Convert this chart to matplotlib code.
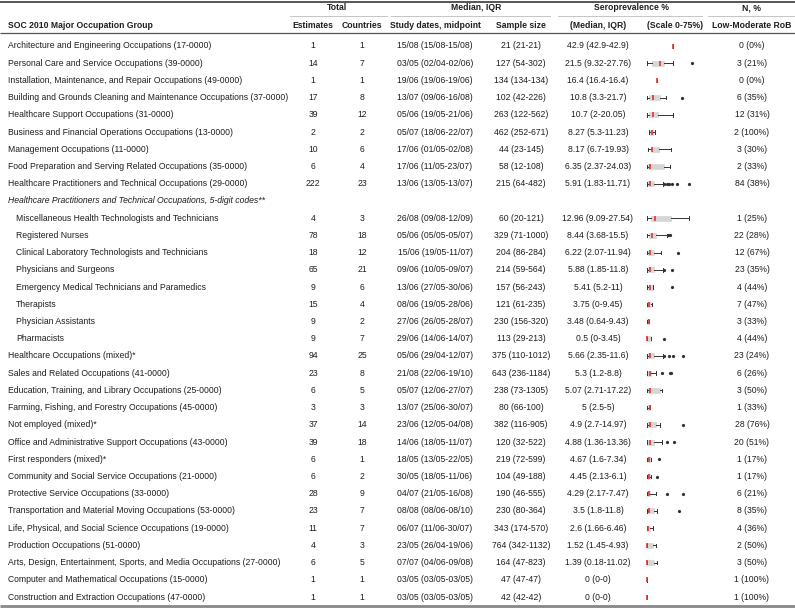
import matplotlib
matplotlib.use("Agg")
import matplotlib.pyplot as plt

plt.rcParams['font.family'] = ['Liberation Sans', 'DejaVu Sans']

# ---------------- data ----------------
groups = [
    "Architecture and Engineering Occupations (17-0000)",
    "Personal Care and Service Occupations (39-0000)",
    "Installation, Maintenance, and Repair Occupations (49-0000)",
    "Building and Grounds Cleaning and Maintenance Occupations (37-0000)",
    "Healthcare Support Occupations (31-0000)",
    "Business and Financial Operations Occupations (13-0000)",
    "Management Occupations (11-0000)",
    "Food Preparation and Serving Related Occupations (35-0000)",
    "Healthcare Practitioners and Technical Occupations (29-0000)",
    "Healthcare Practitioners and Technical Occupations, 5-digit codes**",
    "Miscellaneous Health Technologists and Technicians",
    "Registered Nurses",
    "Clinical Laboratory Technologists and Technicians",
    "Physicians and Surgeons",
    "Emergency Medical Technicians and Paramedics",
    "Therapists",
    "Physician Assistants",
    "Pharmacists",
    "Healthcare Occupations (mixed)*",
    "Sales and Related Occupations (41-0000)",
    "Education, Training, and Library Occupations (25-0000)",
    "Farming, Fishing, and Forestry Occupations (45-0000)",
    "Not employed (mixed)*",
    "Office and Administrative Support Occupations (43-0000)",
    "First responders (mixed)*",
    "Community and Social Service Occupations (21-0000)",
    "Protective Service Occupations (33-0000)",
    "Transportation and Material Moving Occupations (53-0000)",
    "Life, Physical, and Social Science Occupations (19-0000)",
    "Production Occupations (51-0000)",
    "Arts, Design, Entertainment, Sports, and Media Occupations (27-0000)",
    "Computer and Mathematical Occupations (15-0000)",
    "Construction and Extraction Occupations (47-0000)",
]
heading_row = 9          # italic sub-heading (no values)
sub_rows = list(range(10, 18))  # indented 5-digit rows

estimates = [1, 14, 1, 17, 39, 2, 10, 6, 222, None, 4, 78, 18, 65, 9, 15, 9, 9,
             94, 23, 6, 3, 37, 39, 6, 6, 28, 23, 11, 4, 6, 1, 1]
countries = [1, 7, 1, 8, 12, 2, 6, 4, 23, None, 3, 18, 12, 21, 6, 4, 2, 7,
             25, 8, 5, 3, 14, 18, 1, 2, 9, 7, 7, 3, 5, 1, 1]
study_dates = ["15/08 (15/08-15/08)", "03/05 (02/04-02/06)", "19/06 (19/06-19/06)",
               "13/07 (09/06-16/08)", "05/06 (19/05-21/06)", "05/07 (18/06-22/07)",
               "17/06 (01/05-02/08)", "17/06 (11/05-23/07)", "13/06 (13/05-13/07)", None,
               "26/08 (09/08-12/09)", "05/06 (05/05-05/07)", "15/06 (19/05-11/07)",
               "09/06 (10/05-09/07)", "13/06 (27/05-30/06)", "08/06 (19/05-28/06)",
               "27/06 (26/05-28/07)", "29/06 (14/06-14/07)", "05/06 (29/04-12/07)",
               "21/08 (22/06-19/10)", "05/07 (12/06-27/07)", "13/07 (25/06-30/07)",
               "23/06 (12/05-04/08)", "14/06 (18/05-11/07)", "18/05 (13/05-22/05)",
               "30/05 (18/05-11/06)", "04/07 (21/05-16/08)", "08/08 (08/06-08/10)",
               "06/07 (11/06-30/07)", "23/05 (26/04-19/06)", "07/07 (04/06-09/08)",
               "03/05 (03/05-03/05)", "03/05 (03/05-03/05)"]
sample_med = [21, 127, 134, 102, 263, 462, 44, 58, 215, None, 60, 329, 204, 214, 157, 121,
              230, 113, 375, 643, 238, 80, 382, 120, 219, 104, 190, 230, 343, 764, 164, 47, 42]
sample_q1 = [21, 54, 134, 42, 122, 252, 23, 12, 64, None, 20, 71, 86, 59, 56, 61,
             156, 29, 110, 236, 73, 66, 116, 32, 72, 49, 46, 80, 174, 342, 47, 47, 42]
sample_q3 = [21, 302, 134, 226, 562, 671, 145, 108, 482, None, 121, 1000, 284, 564, 243, 235,
             320, 213, 1012, 1184, 1305, 100, 905, 522, 599, 188, 555, 364, 570, 1132, 823, 47, 42]
sero_med = [42.9, 21.5, 16.4, 10.8, 10.7, 8.27, 8.17, 6.35, 5.91, None, 12.96, 8.44, 6.22, 5.88,
            5.41, 3.75, 3.48, 0.5, 5.66, 5.3, 5.07, 5, 4.9, 4.88, 4.67, 4.45, 4.29, 3.5, 2.6,
            1.52, 1.39, 0, 0]
sero_q1 = [42.9, 9.32, 16.4, 3.3, 2, 5.3, 6.7, 2.37, 1.83, None, 9.09, 3.68, 2.07, 1.85,
           5.2, 0, 0.64, 0, 2.35, 1.2, 2.71, 2.5, 2.7, 1.36, 1.6, 2.13, 2.17, 1.8, 1.66,
           1.45, 0.18, 0, 0]
sero_q3 = [42.9, 27.76, 16.4, 21.7, 20.05, 11.23, 19.93, 24.03, 11.71, None, 27.54, 15.5, 11.94,
           11.8, 11, 9.45, 9.43, 3.45, 11.6, 8.8, 17.22, 5, 14.97, 13.36, 7.34, 6.1, 7.47, 11.8,
           6.46, 4.93, 11.02, 0, 0]
rob_n = [0, 3, 0, 6, 12, 2, 3, 2, 84, None, 1, 22, 12, 23, 4, 7, 3, 4, 23, 6, 3, 1, 28, 20,
         1, 1, 6, 8, 4, 2, 3, 1, 1]
rob_pct = [0, 21, 0, 35, 31, 100, 30, 33, 38, None, 25, 28, 67, 35, 44, 47, 33, 44, 24, 26, 50,
           33, 76, 51, 17, 17, 21, 35, 36, 50, 50, 100, 100]

# box-plot elements (scale 0-75 %)
box_q1 = [42.9, 9.32, 16.4, 4.5, 4.5, 5.3, 6.7, 2.37, 1.83, None, 7, 3.68, 2.07, 1.85, 2.5, 0.3,
          0.64, 0, 2.35, 1.2, 2.71, 2.5, 2.7, 1.36, 1.6, 1.0, 1.2, 1.8, 0.5, 0.5, 0.18, 0, 0]
box_q3 = [42.9, 27.76, 16.4, 21.7, 19, 11.23, 19.93, 28, 11.71, None, 40, 15.5, 11.94, 11.8,
          10, 6.5, 4, 8, 11.6, 7, 21, 5, 16, 11.5, 8, 5.5, 6, 11.8, 5.5, 11, 12, 0, 0]
whis_lo = [42.9, 0.3, 16.4, 0, 0, 3.5, 2.9, 0, 0, None, 0.3, 0, 0, 0, 0, 0, 0, 0, 0, 0, 0.5,
           0, 0, 0, 0, 0, 0, 0, 0, 0, 0, 0, 0]
whis_hi = [42.9, 43, 16.4, 31.5, 42.3, 13, 39, 38, 26, None, 69, 32.6, 22.9, 27, 11, 9.45,
           4.5, 8, 26, 15.3, 25.5, 5, 21.8, 25.5, 8, 6.5, 15.3, 16.5, 11, 15.3, 16.5, 0, 0]
fliers = [[], [74], [], [56.8], [], [], [], [], [28.7, 32.6, 36.3, 40.6, 48.7, 69], None,
          [], [35.2, 38.4], [50.3], [29, 41], [41.6], [], [], [28.7],
          [27.5, 36.3, 42.3, 58.4], [24.5, 37.9, 40], [], [], [59.4], [33.5, 44.4], [20.6],
          [16.5], [33.5, 59.4], [52.9], [], [], [], [], []]

# ---------------- layout ----------------
W, H = 795, 610
fig = plt.figure(figsize=(W / 100, H / 100), dpi=100)
ax = fig.add_axes([0, 0, 1, 1])
ax.set_xlim(0, W)
ax.set_ylim(H, 0)
ax.axis('off')

FS = 6.25
TC = '#1e1e1e'
y0, dy = 46, 17.22
row_y = [y0 + i * dy for i in range(len(groups))]

# rules
ax.plot([0, W], [2, 2], color='#555555', lw=1.4, solid_capstyle='butt')
ax.plot([0, W], [32.5, 32.5], color='#555555', lw=0.9, solid_capstyle='butt')
ax.plot([0, W], [606, 606], color='#888888', lw=2.0, solid_capstyle='butt')
for x1, x2 in [(290, 387), (391, 550), (558, 702), (708, 795)]:
    ax.plot([x1, x2], [16, 16], color='#bbbbbb', lw=0.6)

hdr = dict(fontsize=FS, fontweight='bold', color=TC, va='center')
ax.text(337, 8, "Total", ha='center', **hdr)
ax.text(476, 8, "Median, IQR", ha='center', **hdr)
ax.text(632, 8, "Seroprevalence %", ha='center', **hdr)
ax.text(752, 8, "N, %", ha='center', **hdr)
ax.text(8, 25, "SOC 2010 Major Occupation Group", ha='left', **hdr)
ax.text(313, 25, "Estimates", ha='center', **hdr)
ax.text(362, 25, "Countries", ha='center', **hdr)
ax.text(435, 25, "Study dates, midpoint", ha='center', **hdr)
ax.text(521, 25, "Sample size", ha='center', **hdr)
ax.text(598, 25, "(Median, IQR)", ha='center', **hdr)
ax.text(675, 25, "(Scale 0-75%)", ha='center', **hdr)
ax.text(752, 25, "Low-Moderate RoB", ha='center', **hdr)

body = dict(fontsize=FS, color=TC, va='center')
for i, g in enumerate(groups):
    y = row_y[i]
    if i == heading_row:
        ax.text(8, y, g, ha='left', style='italic', **body)
        continue
    ax.text(16 if i in sub_rows else 8, y, g, ha='left', **body)
    ax.text(313, y, str(estimates[i]), ha='center', **body)
    ax.text(362, y, str(countries[i]), ha='center', **body)
    ax.text(435, y, study_dates[i], ha='center', **body)
    ax.text(521, y, f"{sample_med[i]} ({sample_q1[i]}-{sample_q3[i]})", ha='center', **body)
    ax.text(598, y, f"{sero_med[i]:g} ({sero_q1[i]:g}-{sero_q3[i]:g})", ha='center', **body)
    ax.text(752, y, f"{rob_n[i]} ({rob_pct[i]}%)", ha='center', **body)

# mini box plots
bx0, bw = 646.5, 46.5
bax = fig.add_axes([bx0 / W, 0, bw / W, 1])
bax.set_xlim(0, 75)
bax.set_ylim(H, 0)
bax.axis('off')
stats, pos = [], []
for i in range(len(groups)):
    if i == heading_row:
        continue
    stats.append(dict(med=sero_med[i], q1=box_q1[i], q3=box_q3[i],
                      whislo=whis_lo[i], whishi=whis_hi[i], fliers=fliers[i]))
    pos.append(row_y[i])
bax.bxp(stats, positions=pos, widths=5.0, capwidths=3.5, orientation='horizontal',
        patch_artist=True, manage_ticks=False,
        boxprops=dict(facecolor='#d6d6d6', edgecolor='#d0d0d0', linewidth=0.4),
        medianprops=dict(color='#e3342f', linewidth=1.2, solid_capstyle='butt'),
        whiskerprops=dict(color='#333333', linewidth=0.7),
        capprops=dict(color='#333333', linewidth=0.7),
        flierprops=dict(marker='o', markersize=1.3, markerfacecolor='#333333',
                        markeredgecolor='#333333'))
for a in bax.get_children():
    try:
        a.set_clip_on(False)
    except Exception:
        pass

fig.savefig("out.png", dpi=100)
